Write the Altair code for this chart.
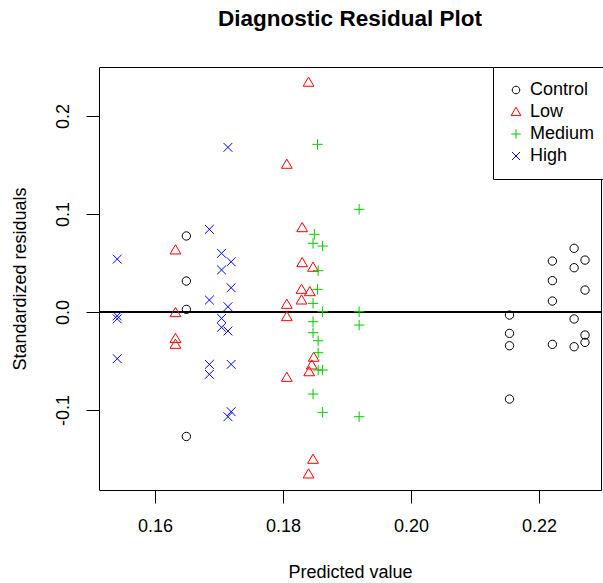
import altair as alt
import pandas as pd

groups = ["Control", "Low", "Medium", "High"]
colors = ["#000000", "#FF0000", "#00CD00", "#0000FF"]

control_x = [0.1649, 0.1649, 0.1649, 0.1649,
             0.2154, 0.2154, 0.2154, 0.2154,
             0.2221, 0.2221, 0.2221, 0.2221,
             0.2255, 0.2255, 0.2255, 0.2255,
             0.2272, 0.2272, 0.2272, 0.2272]
control_y = [0.0776, 0.0316, 0.0027, -0.1270,
             -0.0031, -0.0218, -0.0344, -0.0888,
             0.0520, 0.0320, 0.0112, -0.0330,
             0.0650, 0.0452, -0.0071, -0.0354,
             0.0530, 0.0224, -0.0235, -0.0310]

low_x = [0.1632, 0.1632, 0.1632, 0.1632,
         0.1806, 0.1806, 0.1806, 0.1806,
         0.1830, 0.1830, 0.1829, 0.1829,
         0.1840, 0.1842, 0.1841, 0.1840,
         0.1847, 0.1848, 0.1845, 0.1847]
low_y = [0.0633, -0.0007, -0.0270, -0.0330,
         0.1507, 0.0078, -0.0048, -0.0667,
         0.0860, 0.0503, 0.0231, 0.0122,
         0.2344, 0.0207, -0.0610, -0.1653,
         0.0456, -0.0462, -0.0541, -0.1503]

med_x = [0.1849, 0.1847, 0.1847, 0.1847, 0.1847, 0.1847,
         0.1854, 0.1855, 0.1854, 0.1855, 0.1855, 0.1855,
         0.1862, 0.1862, 0.1862, 0.1862,
         0.1919, 0.1919, 0.1919, 0.1919]
med_y = [0.0793, 0.0701, 0.0088, -0.0099, -0.0211, -0.0837,
         0.1711, 0.0422, 0.0231, -0.0293, -0.0415, -0.0592,
         0.0673, 0.0003, -0.0592, -0.1024,
         0.1048, 0.0003, -0.0133, -0.1068]

high_x = [0.1541, 0.1541, 0.1541, 0.1541,
          0.1685, 0.1685, 0.1685, 0.1685,
          0.1704, 0.1704, 0.1704, 0.1704,
          0.1714, 0.1714, 0.1714, 0.1714,
          0.1719, 0.1719, 0.1719, 0.1719]
high_y = [0.0540, -0.0040, -0.0070, -0.0476,
          0.0844, 0.0122, -0.0534, -0.0636,
          0.0599, 0.0429, -0.0065, -0.0156,
          0.1680, 0.0054, -0.0194, -0.1068,
          0.0513, 0.0248, -0.0534, -0.1017]

x_ticks = [0.16, 0.18, 0.20, 0.22]
y_ticks = [-0.1, 0.0, 0.1, 0.2]

shapes = [
    "M0.76,0A0.76,0.76 0 1,1 -0.76,0A0.76,0.76 0 1,1 0.76,0Z",
    "M0,-0.95L0.98,0.72L-0.98,0.72Z",
    "M-0.95,0H0.95M0,-0.95V0.95",
    "M-0.8,-0.8L0.8,0.8M-0.8,0.8L0.8,-0.8",
]

rows = []
for g, xs, ys in [("Control", control_x, control_y), ("Low", low_x, low_y),
                  ("Medium", med_x, med_y), ("High", high_x, high_y)]:
    for a, b in zip(xs, ys):
        rows.append({"pred": a, "resid": b, "group": g})
df = pd.DataFrame(rows)

FONT = "Liberation Sans"

legend = alt.Legend(title=None, orient="none", legendX=394, legendY=0,
                    fillColor="white", strokeColor="black", padding=14,
                    labelFont=FONT, labelFontSize=18, labelColor="black",
                    symbolSize=100, symbolStrokeWidth=1, rowPadding=4,
                    labelOffset=5, symbolType="circle")

zero = alt.Chart(df).mark_rule(color="black", strokeWidth=1).encode(y=alt.datum(0))

points = alt.Chart(df).mark_point(filled=False, strokeWidth=1, opacity=1, size=121).encode(
    x=alt.X("pred:Q",
            scale=alt.Scale(domain=[0.15125, 0.2297], nice=False, zero=False),
            axis=alt.Axis(values=x_ticks, format=".2f", title="Predicted value",
                          labelBaseline="top", labelPadding=14,
                          titleY=82, titleBaseline="middle")),
    y=alt.Y("resid:Q",
            scale=alt.Scale(domain=[-0.1816, 0.25], nice=False, zero=False),
            axis=alt.Axis(values=y_ticks, format=".1f", title="Standardized residuals",
                          labelExpr="replace(datum.label, '\u2212', '-')",
                          labelAngle=-90, labelAlign="center", labelBaseline="bottom",
                          labelPadding=14, titleX=-79, titleAngle=-90,
                          titleBaseline="middle", titleAlign="center")),
    color=alt.Color("group:N", scale=alt.Scale(domain=groups, range=colors), legend=legend),
    shape=alt.Shape("group:N", scale=alt.Scale(domain=groups, range=shapes), legend=legend),
)

chart = alt.layer(zero, points).properties(
    width=502, height=423,
    autosize="none",
    padding={"left": 99, "top": 67, "right": 2, "bottom": 93},
    background="white",
    title=alt.TitleParams("Diagnostic Residual Plot", font=FONT, fontSize=22.5,
                          fontWeight="bold", anchor="middle", offset=36, color="black"),
).configure_view(stroke="black", strokeWidth=1).configure_axis(
    domain=False, grid=False, tickColor="black", tickSize=13, tickWidth=1,
    labelFont=FONT, labelFontSize=18, labelColor="black",
    titleFont=FONT, titleFontSize=18, titleFontWeight="normal", titleColor="black",
)

chart.save("out.html", embed_options={"renderer": "svg", "actions": False})
